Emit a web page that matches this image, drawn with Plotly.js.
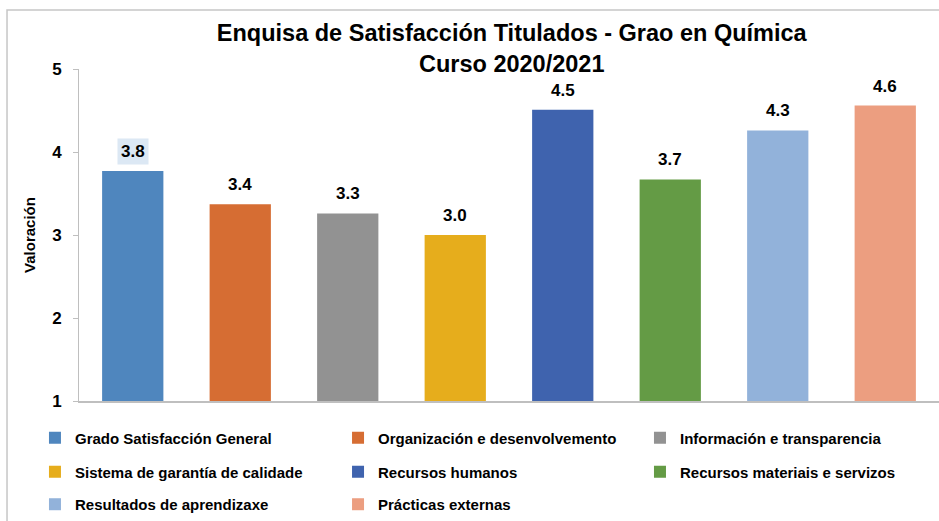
<!DOCTYPE html>
<html>
<head>
<meta charset="utf-8">
<script src="https://cdn.plot.ly/plotly-3.0.1.min.js"></script>
<style>
  html, body { margin: 0; padding: 0; background: #fff; }
  #chart { width: 939px; height: 521px; }
</style>
</head>
<body>
<div id="chart"></div>
<script>
// Datos da enquisa
const categorias = [
    "Grado Satisfacción General",
    "Organización e desenvolvemento",
    "Información e transparencia",
    "Sistema de garantía de calidade",
    "Recursos humanos",
    "Recursos materiais e servizos",
    "Resultados de aprendizaxe",
    "Prácticas externas"
];
const valores = [3.77, 3.37, 3.26, 3.00, 4.51, 3.67, 4.26, 4.56];
const etiquetas = ["3.8", "3.4", "3.3", "3.0", "4.5", "3.7", "4.3", "4.6"];
const cores = ["#4f86be", "#d66d33", "#929292", "#e6ad1c", "#3f63ae", "#649b45", "#92b2da", "#ec9e80"];
const ticksY = [1, 2, 3, 4, 5];

const fonte = "'Liberation Sans Narrow', 'Arial Narrow', 'Liberation Sans', Arial, sans-serif";

// posición de cada entrada da lenda (3 columnas, 3 filas)
const lendaX = [-0.0512, 0.3012, 0.6523];
const lendaY = [-0.1114, -0.2139, -0.3117];
const nomeLenda = i => i === 0 ? 'legend' : 'legend' + (i + 1);

// Unha traza por categoría, cada unha coa súa lenda
const trazas = categorias.map((cat, i) => ({
    type: 'bar',
    x: [cat],
    y: [valores[i]],
    name: cat,
    width: 0.57,
    marker: {color: cores[i]},
    legend: nomeLenda(i),
    hoverinfo: 'none'
}));

// Etiquetas de valor enriba das barras
const anotacions = categorias.map((cat, i) => ({
    x: cat,
    y: valores[i],
    text: etiquetas[i],
    showarrow: false,
    yanchor: 'bottom',
    yshift: 6,
    font: {family: fonte, size: 17, color: '#000', weight: 'bold'},
    bgcolor: i === 0 ? '#dce8f4' : 'rgba(0,0,0,0)',
    borderpad: 3
}));

const layout = {
    width: 939,
    height: 521,
    margin: {l: 79, r: 0, t: 69, b: 120},
    paper_bgcolor: '#fff',
    plot_bgcolor: '#fff',
    barmode: 'overlay',
    showlegend: true,
    title: {
        text: 'Enquisa de Satisfacción Titulados - Grao en Química<br>Curso 2020/2021',
        font: {family: fonte, size: 23.5, color: '#000', weight: 'bold'},
        x: 0.545,
        xanchor: 'center',
        y: 1 - 41 / 521,
        yanchor: 'top'
    },
    xaxis: {
        showticklabels: false,
        ticks: '',
        showline: true,
        linecolor: '#bfbfbf',
        linewidth: 1.5,
        showgrid: false,
        zeroline: false,
        fixedrange: true
    },
    yaxis: {
        range: [1, 5],
        tickvals: ticksY,
        ticks: 'outside',
        ticklen: 5,
        tickcolor: '#bfbfbf',
        showline: true,
        linecolor: '#bfbfbf',
        showgrid: false,
        zeroline: false,
        tickfont: {family: fonte, size: 17, color: '#000', weight: 'bold'},
        ticklabelstandoff: 8,
        title: {
            text: 'Valoración',
            font: {family: fonte, size: 15, color: '#000', weight: 'bold'},
            standoff: 12
        }
    },
    annotations: anotacions,
    shapes: [{
        type: 'path',
        xref: 'paper',
        yref: 'paper',
        path: 'M -0.0837,-0.6 L -0.0837,1.178 L 1.02,1.178',
        line: {color: '#c6c6c6', width: 1.5}
    }]
};

categorias.forEach((cat, i) => {
    layout[nomeLenda(i)] = {
        orientation: 'v',
        x: lendaX[i % 3],
        xanchor: 'left',
        y: lendaY[Math.floor(i / 3)],
        yanchor: 'middle',
        itemwidth: 30,
        font: {family: fonte, size: 15, color: '#000', weight: 'bold'},
        bgcolor: 'rgba(0,0,0,0)'
    };
});

Plotly.newPlot('chart', trazas, layout, {displayModeBar: false, staticPlot: true});
</script>
</body>
</html>
